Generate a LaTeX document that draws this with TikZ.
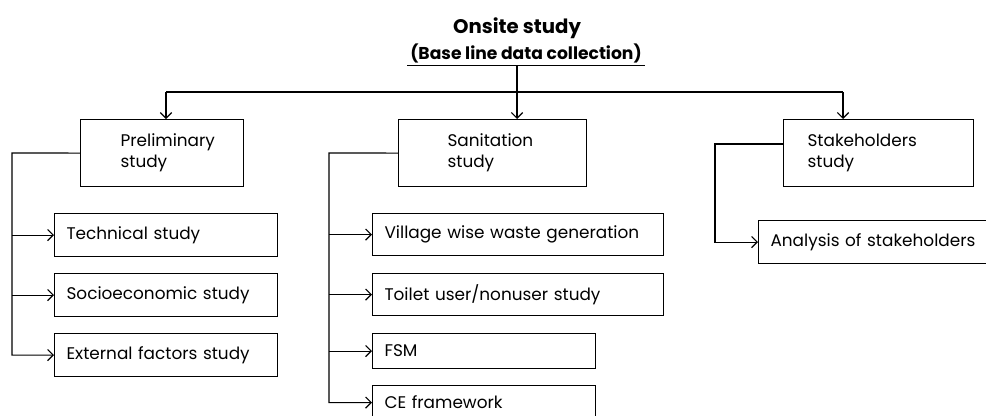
\documentclass[tikz,border=0pt]{standalone}
\usepackage{fontspec}
\setmainfont{Poppins}
\usetikzlibrary{arrows.meta,calc}

\begin{document}
\begin{tikzpicture}[
    x=0.025cm, y=-0.025cm,
    stagebox/.style={draw, line width=0.8pt, anchor=north west, align=left, font=\fontsize{12}{15}\selectfont, minimum height=1.675cm},
    taskbox/.style={draw, line width=0.8pt, anchor=north west, align=left, font=\fontsize{12}{15}\selectfont, inner xsep=0.3cm, minimum height=#1},
    taskbox/.default={1.075cm},
    link/.style={line width=0.8pt},
    arr/.style={-{Straight Barb[length=4pt,width=8pt]}, line width=0.8pt},
]
\useasboundingbox (0,0) rectangle (986,415);

% title
\node[font=\fontsize{14}{17}\selectfont\bfseries] (title) at (517,28) {Onsite study};
\node[font=\fontsize{12.2}{14}\selectfont\bfseries, inner xsep=2pt, inner ysep=2pt] (sub) at (526,53) {(Base line data collection)};
\draw[link] (sub.south west) -- (sub.south east);

% main stages
\node[stagebox, text width=2.075cm, inner xsep=1cm] (prelim) at (80,119) {Preliminary\\study};
\node[stagebox, text width=2.25cm, inner xsep=1.225cm] (sanit) at (398,119) {Sanitation\\study};
\node[stagebox, text width=3.55cm, inner xsep=0.6cm] (stake) at (783,119) {Stakeholders\\study};

% preliminary tasks
\node[taskbox, text width=4.975cm] (tech) at (54,213) {Technical study};
\node[taskbox, text width=4.975cm] (socio) at (54,273) {Socioeconomic study};
\node[taskbox, text width=4.975cm] (extern) at (54,333) {External factors study};

% sanitation tasks
\node[taskbox=1.05cm, text width=6.675cm] (village) at (372,213) {Village wise waste generation};
\node[taskbox=1.05cm, text width=6.675cm] (toilet) at (372,273) {Toilet user/nonuser study};
\node[taskbox=0.875cm, text width=4.975cm] (fsm) at (372,333) {FSM};
\node[taskbox=0.85cm, text width=4.975cm] (ce) at (372,385) {CE framework};

% stakeholder task
\node[taskbox, text width=5.4cm] (analysis) at (758,220) {Analysis of stakeholders};

% top split
\coordinate (split) at (title.south |- 0,92);
\coordinate (hl) at (166,92);
\coordinate (hr) at (843,92);
\draw[link] (hl) -- (hr);
\draw[arr] (title.south |- sub.south) -- (split |- sanit.north);
\draw[arr] (hl) -- (hl |- prelim.north);
\draw[arr] (hr) -- (hr |- stake.north);

% branches
\coordinate (ptrunk) at (12,153);
\draw[arr] (prelim.west) -- (ptrunk) |- (extern.west);
\draw[arr] (ptrunk |- tech.west) -- (tech.west);
\draw[arr] (ptrunk |- socio.west) -- (socio.west);

\coordinate (strunk) at (329,153);
\draw[arr] (sanit.west) -- (strunk) |- (ce.west);
\foreach \t in {village,toilet,fsm}
  \draw[arr] (strunk |- \t.west) -- (\t.west);

\coordinate (ktrunk) at (715,144);
\draw[arr] (stake.west |- ktrunk) -- (ktrunk) |- (analysis.west);

\end{tikzpicture}
\end{document}
